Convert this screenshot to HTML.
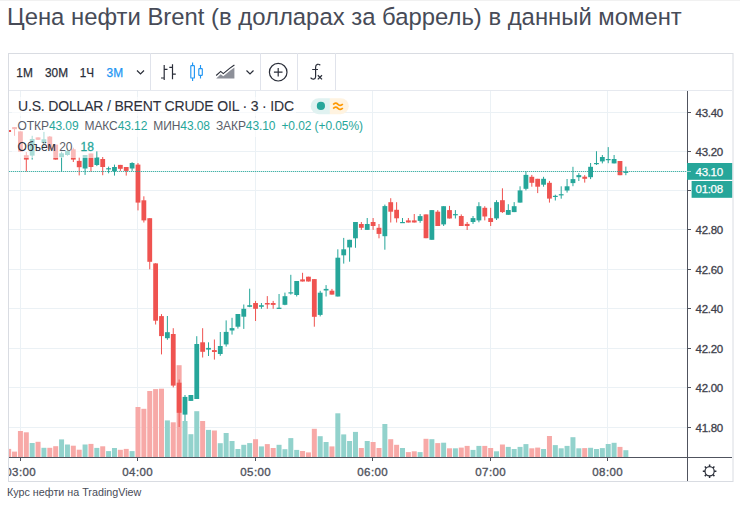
<!DOCTYPE html>
<html><head><meta charset="utf-8"><style>
html,body{margin:0;padding:0;background:#fff;width:740px;height:505px;overflow:hidden}
svg{position:absolute;left:0;top:0;font-family:"Liberation Sans",sans-serif}
</style></head><body>
<svg width="740" height="505" viewBox="0 0 740 505">
<defs><clipPath id="pane"><rect x="9" y="91" width="678" height="366"/></clipPath></defs>
<line x1="0" x2="740" y1="0.5" y2="0.5" stroke="#f1f1f1"/>
<text x="7" y="25.2" font-size="23.86" fill="#474b57">Цена нефти Brent (в долларах за баррель) в данный момент</text>
<rect x="8.5" y="53.5" width="724.5" height="428" fill="none" stroke="#d9dce2"/>
<line x1="9" x2="732" y1="90.5" y2="90.5" stroke="#e6e9ef"/>
<g font-size="12.5" fill="#2a2e39" stroke="#2a2e39" stroke-width="0.25">
<text x="16.3" y="76.8" textLength="16.5" lengthAdjust="spacingAndGlyphs">1M</text><text x="45" y="76.8" textLength="23" lengthAdjust="spacingAndGlyphs">30M</text><text x="79.8" y="76.8" textLength="14.3" lengthAdjust="spacingAndGlyphs">1Ч</text><text x="106.6" y="76.8" fill="#2196f3" stroke="#2196f3" textLength="16.5" lengthAdjust="spacingAndGlyphs">3M</text>
</g>
<path d="M137 70.5 l3.5 3.5 l3.5 -3.5" fill="none" stroke="#2a2e39" stroke-width="1.2"/>
<line x1="150.5" x2="150.5" y1="53" y2="90" stroke="#e0e3eb"/>
<g fill="none" stroke="#2a2e39" stroke-width="1.2">
<path d="M164.2 65v15M161 78h3.2M164.2 69.3h3.3M172.5 64.2v15M169.3 67.3h3.2M172.5 74.2h3.3"/>
</g>
<g fill="none" stroke="#2196f3" stroke-width="1.15">
<rect x="190.8" y="65.6" width="3.6" height="12.4" rx="0.6"/><path d="M192.6 62.4v3.2M192.6 78v3"/>
<rect x="198.8" y="68.6" width="3.5" height="6.8" rx="0.6"/><path d="M200.5 65v3.6M200.5 75.4v3"/>
</g>
<path d="M216.2 75.5L220.7 71.4L223.3 73.6L229.6 68.4L234.4 65" fill="none" stroke="#2a2e39" stroke-width="1.15"/>
<path d="M216.2 78.4L220.7 74.2L223.3 76.2L229.6 71L234.4 67.6V78.4z" fill="#8d9099"/>
<path d="M246.5 70.5 l3.5 3.5 l3.5 -3.5" fill="none" stroke="#2a2e39" stroke-width="1.2"/>
<line x1="260.5" x2="260.5" y1="53" y2="90" stroke="#e0e3eb"/>
<circle cx="278.2" cy="72.2" r="8.8" fill="none" stroke="#2a2e39" stroke-width="1.2"/>
<path d="M278.2 67.9v8.6M273.9 72.2h8.6" stroke="#2a2e39" stroke-width="1.2"/>
<line x1="297.5" x2="297.5" y1="53" y2="90" stroke="#e0e3eb"/>
<path d="M320.3 65.2C318.6 63.6 315.6 64 315.6 67.2V76.8C315.6 79.6 312 79.8 310.6 77.6M312.2 69.5H318" fill="none" stroke="#2a2e39" stroke-width="1.2"/>
<path d="M317.8 75.2l4.2 4.2M322 75.2l-4.2 4.2" stroke="#2a2e39" stroke-width="1.25"/>
<line x1="335.5" x2="335.5" y1="53" y2="90" stroke="#e0e3eb"/>
<g clip-path="url(#pane)">
<line x1="9" x2="687" y1="112.5" y2="112.5" stroke="#ebf1f5" stroke-width="1"/>
<line x1="9" x2="687" y1="151.5" y2="151.5" stroke="#ebf1f5" stroke-width="1"/>
<line x1="9" x2="687" y1="190.5" y2="190.5" stroke="#ebf1f5" stroke-width="1"/>
<line x1="9" x2="687" y1="229.5" y2="229.5" stroke="#ebf1f5" stroke-width="1"/>
<line x1="9" x2="687" y1="269.5" y2="269.5" stroke="#ebf1f5" stroke-width="1"/>
<line x1="9" x2="687" y1="308.5" y2="308.5" stroke="#ebf1f5" stroke-width="1"/>
<line x1="9" x2="687" y1="348.5" y2="348.5" stroke="#ebf1f5" stroke-width="1"/>
<line x1="9" x2="687" y1="387.5" y2="387.5" stroke="#ebf1f5" stroke-width="1"/>
<line x1="9" x2="687" y1="427.5" y2="427.5" stroke="#ebf1f5" stroke-width="1"/>
<line x1="20.5" x2="20.5" y1="91" y2="457" stroke="#ebf1f5" stroke-width="1"/>
<line x1="137.5" x2="137.5" y1="91" y2="457" stroke="#ebf1f5" stroke-width="1"/>
<line x1="255.5" x2="255.5" y1="91" y2="457" stroke="#ebf1f5" stroke-width="1"/>
<line x1="372.5" x2="372.5" y1="91" y2="457" stroke="#ebf1f5" stroke-width="1"/>
<line x1="490.5" x2="490.5" y1="91" y2="457" stroke="#ebf1f5" stroke-width="1"/>
<line x1="607.5" x2="607.5" y1="91" y2="457" stroke="#ebf1f5" stroke-width="1"/>
<rect x="6.16" y="448.9" width="5" height="8.1" fill="#f7a9a7"/>
<rect x="12.04" y="451.6" width="5" height="5.4" fill="#f7a9a7"/>
<rect x="17.92" y="431.0" width="5" height="26.0" fill="#f7a9a7"/>
<rect x="23.80" y="432.3" width="5" height="24.7" fill="#f7a9a7"/>
<rect x="29.68" y="443.0" width="5" height="14.0" fill="#92d2cc"/>
<rect x="35.55" y="441.8" width="5" height="15.2" fill="#f7a9a7"/>
<rect x="41.43" y="447.8" width="5" height="9.2" fill="#92d2cc"/>
<rect x="47.31" y="447.8" width="5" height="9.2" fill="#f7a9a7"/>
<rect x="53.19" y="446.2" width="5" height="10.8" fill="#f7a9a7"/>
<rect x="59.07" y="439.4" width="5" height="17.6" fill="#92d2cc"/>
<rect x="64.94" y="444.5" width="5" height="12.5" fill="#92d2cc"/>
<rect x="70.82" y="445.7" width="5" height="11.3" fill="#f7a9a7"/>
<rect x="76.70" y="449.7" width="5" height="7.3" fill="#f7a9a7"/>
<rect x="82.58" y="444.5" width="5" height="12.5" fill="#92d2cc"/>
<rect x="88.46" y="443.9" width="5" height="13.1" fill="#f7a9a7"/>
<rect x="94.33" y="447.9" width="5" height="9.1" fill="#92d2cc"/>
<rect x="100.21" y="446.3" width="5" height="10.7" fill="#f7a9a7"/>
<rect x="106.09" y="451.1" width="5" height="5.9" fill="#92d2cc"/>
<rect x="111.97" y="448.0" width="5" height="9.0" fill="#92d2cc"/>
<rect x="117.85" y="449.8" width="5" height="7.2" fill="#f7a9a7"/>
<rect x="123.72" y="448.9" width="5" height="8.1" fill="#f7a9a7"/>
<rect x="129.60" y="451.1" width="5" height="5.9" fill="#92d2cc"/>
<rect x="135.48" y="407.0" width="5" height="50.0" fill="#f7a9a7"/>
<rect x="141.36" y="408.8" width="5" height="48.2" fill="#f7a9a7"/>
<rect x="147.24" y="391.0" width="5" height="66.0" fill="#f7a9a7"/>
<rect x="153.11" y="389.1" width="5" height="67.9" fill="#f7a9a7"/>
<rect x="158.99" y="388.7" width="5" height="68.3" fill="#f7a9a7"/>
<rect x="164.87" y="420.4" width="5" height="36.6" fill="#92d2cc"/>
<rect x="170.75" y="422.3" width="5" height="34.7" fill="#f7a9a7"/>
<rect x="176.63" y="365.2" width="5" height="91.8" fill="#f7a9a7"/>
<rect x="182.50" y="421.0" width="5" height="36.0" fill="#92d2cc"/>
<rect x="188.38" y="434.2" width="5" height="22.8" fill="#92d2cc"/>
<rect x="194.26" y="411.2" width="5" height="45.8" fill="#92d2cc"/>
<rect x="200.14" y="421.0" width="5" height="36.0" fill="#f7a9a7"/>
<rect x="206.02" y="429.9" width="5" height="27.1" fill="#92d2cc"/>
<rect x="211.89" y="430.5" width="5" height="26.5" fill="#f7a9a7"/>
<rect x="217.77" y="443.2" width="5" height="13.8" fill="#92d2cc"/>
<rect x="223.65" y="433.0" width="5" height="24.0" fill="#92d2cc"/>
<rect x="229.53" y="441.0" width="5" height="16.0" fill="#92d2cc"/>
<rect x="235.41" y="449.0" width="5" height="8.0" fill="#92d2cc"/>
<rect x="241.28" y="444.8" width="5" height="12.2" fill="#92d2cc"/>
<rect x="247.16" y="443.1" width="5" height="13.9" fill="#92d2cc"/>
<rect x="253.04" y="439.2" width="5" height="17.8" fill="#f7a9a7"/>
<rect x="258.92" y="446.4" width="5" height="10.6" fill="#92d2cc"/>
<rect x="264.80" y="444.1" width="5" height="12.9" fill="#f7a9a7"/>
<rect x="270.67" y="448.0" width="5" height="9.0" fill="#f7a9a7"/>
<rect x="276.55" y="444.8" width="5" height="12.2" fill="#92d2cc"/>
<rect x="282.43" y="449.2" width="5" height="7.8" fill="#92d2cc"/>
<rect x="288.31" y="438.1" width="5" height="18.9" fill="#92d2cc"/>
<rect x="294.19" y="449.9" width="5" height="7.1" fill="#92d2cc"/>
<rect x="300.06" y="451.0" width="5" height="6.0" fill="#f7a9a7"/>
<rect x="305.94" y="452.4" width="5" height="4.6" fill="#f7a9a7"/>
<rect x="311.82" y="428.8" width="5" height="28.2" fill="#f7a9a7"/>
<rect x="317.70" y="436.2" width="5" height="20.8" fill="#92d2cc"/>
<rect x="323.58" y="442.0" width="5" height="15.0" fill="#92d2cc"/>
<rect x="329.45" y="446.4" width="5" height="10.6" fill="#f7a9a7"/>
<rect x="335.33" y="413.3" width="5" height="43.7" fill="#92d2cc"/>
<rect x="341.21" y="434.4" width="5" height="22.6" fill="#92d2cc"/>
<rect x="347.09" y="441.0" width="5" height="16.0" fill="#92d2cc"/>
<rect x="352.97" y="431.9" width="5" height="25.1" fill="#92d2cc"/>
<rect x="358.84" y="448.0" width="5" height="9.0" fill="#f7a9a7"/>
<rect x="364.72" y="441.0" width="5" height="16.0" fill="#92d2cc"/>
<rect x="370.60" y="442.0" width="5" height="15.0" fill="#f7a9a7"/>
<rect x="376.48" y="448.0" width="5" height="9.0" fill="#f7a9a7"/>
<rect x="382.36" y="424.0" width="5" height="33.0" fill="#92d2cc"/>
<rect x="388.23" y="439.2" width="5" height="17.8" fill="#f7a9a7"/>
<rect x="394.11" y="444.8" width="5" height="12.2" fill="#f7a9a7"/>
<rect x="399.99" y="448.0" width="5" height="9.0" fill="#92d2cc"/>
<rect x="405.87" y="452.1" width="5" height="4.9" fill="#f7a9a7"/>
<rect x="411.75" y="451.3" width="5" height="5.7" fill="#f7a9a7"/>
<rect x="417.62" y="452.1" width="5" height="4.9" fill="#92d2cc"/>
<rect x="423.50" y="438.8" width="5" height="18.2" fill="#f7a9a7"/>
<rect x="429.38" y="439.2" width="5" height="17.8" fill="#92d2cc"/>
<rect x="435.26" y="443.1" width="5" height="13.9" fill="#f7a9a7"/>
<rect x="441.14" y="442.7" width="5" height="14.3" fill="#92d2cc"/>
<rect x="447.01" y="448.3" width="5" height="8.7" fill="#f7a9a7"/>
<rect x="452.89" y="448.3" width="5" height="8.7" fill="#92d2cc"/>
<rect x="458.77" y="447.6" width="5" height="9.4" fill="#f7a9a7"/>
<rect x="464.65" y="445.9" width="5" height="11.1" fill="#f7a9a7"/>
<rect x="470.53" y="449.9" width="5" height="7.1" fill="#92d2cc"/>
<rect x="476.40" y="445.9" width="5" height="11.1" fill="#92d2cc"/>
<rect x="482.28" y="445.9" width="5" height="11.1" fill="#f7a9a7"/>
<rect x="488.16" y="448.0" width="5" height="9.0" fill="#f7a9a7"/>
<rect x="494.04" y="451.3" width="5" height="5.7" fill="#92d2cc"/>
<rect x="499.92" y="444.5" width="5" height="12.5" fill="#f7a9a7"/>
<rect x="505.79" y="446.9" width="5" height="10.1" fill="#92d2cc"/>
<rect x="511.67" y="449.0" width="5" height="8.0" fill="#92d2cc"/>
<rect x="517.55" y="446.9" width="5" height="10.1" fill="#92d2cc"/>
<rect x="523.43" y="444.1" width="5" height="12.9" fill="#92d2cc"/>
<rect x="529.31" y="448.3" width="5" height="8.7" fill="#f7a9a7"/>
<rect x="535.18" y="447.6" width="5" height="9.4" fill="#f7a9a7"/>
<rect x="541.06" y="449.0" width="5" height="8.0" fill="#92d2cc"/>
<rect x="546.94" y="436.0" width="5" height="21.0" fill="#f7a9a7"/>
<rect x="552.82" y="445.1" width="5" height="11.9" fill="#92d2cc"/>
<rect x="558.70" y="448.3" width="5" height="8.7" fill="#92d2cc"/>
<rect x="564.57" y="445.9" width="5" height="11.1" fill="#92d2cc"/>
<rect x="570.45" y="437.2" width="5" height="19.8" fill="#92d2cc"/>
<rect x="576.33" y="448.3" width="5" height="8.7" fill="#92d2cc"/>
<rect x="582.21" y="448.1" width="5" height="8.9" fill="#f7a9a7"/>
<rect x="588.09" y="447.8" width="5" height="9.2" fill="#92d2cc"/>
<rect x="593.96" y="449.0" width="5" height="8.0" fill="#92d2cc"/>
<rect x="599.84" y="448.1" width="5" height="8.9" fill="#92d2cc"/>
<rect x="605.72" y="444.0" width="5" height="13.0" fill="#92d2cc"/>
<rect x="611.60" y="442.8" width="5" height="14.2" fill="#92d2cc"/>
<rect x="617.48" y="446.9" width="5" height="10.1" fill="#f7a9a7"/>
<rect x="623.35" y="450.2" width="5" height="6.8" fill="#92d2cc"/>
<rect x="8.16" y="130.0" width="1" height="2.0" fill="#ef5350"/>
<rect x="6.26" y="130.0" width="4.8" height="2.0" fill="#ef5350"/>
<rect x="14.04" y="127.0" width="1" height="8.8" fill="#ef5350"/>
<rect x="12.14" y="127.1" width="4.8" height="2.1" fill="#ef5350"/>
<rect x="19.92" y="131.4" width="1" height="20.3" fill="#ef5350"/>
<rect x="18.02" y="131.4" width="4.8" height="20.3" fill="#ef5350"/>
<rect x="25.80" y="152.0" width="1" height="19.5" fill="#ef5350"/>
<rect x="23.90" y="155.2" width="4.8" height="4.4" fill="#ef5350"/>
<rect x="31.68" y="135.8" width="1" height="23.8" fill="#26a69a"/>
<rect x="29.78" y="139.0" width="4.8" height="16.6" fill="#26a69a"/>
<rect x="37.55" y="137.4" width="1" height="2.6" fill="#ef5350"/>
<rect x="35.65" y="137.4" width="4.8" height="2.4" fill="#ef5350"/>
<rect x="43.43" y="131.9" width="1" height="16.6" fill="#26a69a"/>
<rect x="41.53" y="139.3" width="4.8" height="3.7" fill="#26a69a"/>
<rect x="49.31" y="136.0" width="1" height="13.3" fill="#ef5350"/>
<rect x="47.41" y="136.6" width="4.8" height="12.7" fill="#ef5350"/>
<rect x="55.19" y="144.6" width="1" height="15.0" fill="#ef5350"/>
<rect x="53.29" y="144.6" width="4.8" height="15.0" fill="#ef5350"/>
<rect x="61.07" y="151.7" width="1" height="19.8" fill="#26a69a"/>
<rect x="59.17" y="153.3" width="4.8" height="3.9" fill="#26a69a"/>
<rect x="66.94" y="148.0" width="1" height="7.7" fill="#26a69a"/>
<rect x="65.04" y="151.0" width="4.8" height="4.0" fill="#26a69a"/>
<rect x="72.82" y="147.7" width="1" height="14.3" fill="#ef5350"/>
<rect x="70.92" y="149.3" width="4.8" height="10.3" fill="#ef5350"/>
<rect x="78.70" y="157.2" width="1" height="18.2" fill="#ef5350"/>
<rect x="76.80" y="160.9" width="4.8" height="6.3" fill="#ef5350"/>
<rect x="84.58" y="155.0" width="1" height="19.9" fill="#26a69a"/>
<rect x="82.68" y="155.0" width="4.8" height="13.5" fill="#26a69a"/>
<rect x="90.46" y="153.5" width="1" height="18.2" fill="#ef5350"/>
<rect x="88.56" y="153.5" width="4.8" height="13.5" fill="#ef5350"/>
<rect x="96.33" y="151.4" width="1" height="14.7" fill="#26a69a"/>
<rect x="94.43" y="157.4" width="4.8" height="7.6" fill="#26a69a"/>
<rect x="102.21" y="157.0" width="1" height="18.2" fill="#ef5350"/>
<rect x="100.31" y="159.0" width="4.8" height="8.0" fill="#ef5350"/>
<rect x="108.09" y="166.6" width="1" height="6.7" fill="#26a69a"/>
<rect x="106.19" y="168.2" width="4.8" height="1.2" fill="#26a69a"/>
<rect x="113.97" y="164.6" width="1" height="11.0" fill="#26a69a"/>
<rect x="112.07" y="167.0" width="4.8" height="4.2" fill="#26a69a"/>
<rect x="119.85" y="164.9" width="1" height="6.0" fill="#ef5350"/>
<rect x="117.95" y="164.9" width="4.8" height="3.9" fill="#ef5350"/>
<rect x="125.72" y="167.0" width="1" height="8.6" fill="#ef5350"/>
<rect x="123.82" y="167.0" width="4.8" height="3.9" fill="#ef5350"/>
<rect x="131.60" y="162.2" width="1" height="8.7" fill="#26a69a"/>
<rect x="129.70" y="163.0" width="4.8" height="5.5" fill="#26a69a"/>
<rect x="137.48" y="163.0" width="1" height="47.4" fill="#ef5350"/>
<rect x="135.58" y="164.6" width="4.8" height="38.0" fill="#ef5350"/>
<rect x="143.36" y="196.3" width="1" height="26.2" fill="#ef5350"/>
<rect x="141.46" y="200.3" width="4.8" height="20.1" fill="#ef5350"/>
<rect x="149.24" y="218.2" width="1" height="51.1" fill="#ef5350"/>
<rect x="147.34" y="218.2" width="4.8" height="43.6" fill="#ef5350"/>
<rect x="155.11" y="263.2" width="1" height="61.3" fill="#ef5350"/>
<rect x="153.21" y="263.4" width="4.8" height="57.3" fill="#ef5350"/>
<rect x="160.99" y="314.1" width="1" height="40.3" fill="#ef5350"/>
<rect x="159.09" y="316.1" width="4.8" height="20.0" fill="#ef5350"/>
<rect x="166.87" y="316.0" width="1" height="23.8" fill="#26a69a"/>
<rect x="164.97" y="332.2" width="4.8" height="6.0" fill="#26a69a"/>
<rect x="172.75" y="328.2" width="1" height="59.2" fill="#ef5350"/>
<rect x="170.85" y="334.0" width="4.8" height="51.6" fill="#ef5350"/>
<rect x="178.63" y="379.5" width="1" height="47.5" fill="#ef5350"/>
<rect x="176.73" y="382.7" width="4.8" height="30.1" fill="#ef5350"/>
<rect x="184.50" y="395.0" width="1" height="26.0" fill="#26a69a"/>
<rect x="182.60" y="396.9" width="4.8" height="17.7" fill="#26a69a"/>
<rect x="190.38" y="395.0" width="1" height="5.9" fill="#26a69a"/>
<rect x="188.48" y="395.0" width="4.8" height="5.9" fill="#26a69a"/>
<rect x="196.26" y="336.2" width="1" height="62.8" fill="#26a69a"/>
<rect x="194.36" y="344.0" width="4.8" height="55.0" fill="#26a69a"/>
<rect x="202.14" y="328.2" width="1" height="29.3" fill="#ef5350"/>
<rect x="200.24" y="342.3" width="4.8" height="9.5" fill="#ef5350"/>
<rect x="208.02" y="342.3" width="1" height="13.7" fill="#26a69a"/>
<rect x="206.12" y="347.9" width="4.8" height="1.7" fill="#26a69a"/>
<rect x="213.89" y="339.5" width="1" height="20.1" fill="#ef5350"/>
<rect x="211.99" y="350.1" width="4.8" height="1.9" fill="#ef5350"/>
<rect x="219.77" y="332.0" width="1" height="23.8" fill="#26a69a"/>
<rect x="217.87" y="346.0" width="4.8" height="8.0" fill="#26a69a"/>
<rect x="225.65" y="320.4" width="1" height="26.2" fill="#26a69a"/>
<rect x="223.75" y="331.9" width="4.8" height="12.5" fill="#26a69a"/>
<rect x="231.53" y="317.8" width="1" height="16.8" fill="#26a69a"/>
<rect x="229.63" y="328.1" width="4.8" height="2.4" fill="#26a69a"/>
<rect x="237.41" y="314.0" width="1" height="14.6" fill="#26a69a"/>
<rect x="235.51" y="314.0" width="4.8" height="12.7" fill="#26a69a"/>
<rect x="243.28" y="304.5" width="1" height="24.4" fill="#26a69a"/>
<rect x="241.38" y="308.8" width="4.8" height="7.9" fill="#26a69a"/>
<rect x="249.16" y="288.7" width="1" height="18.5" fill="#26a69a"/>
<rect x="247.26" y="305.2" width="4.8" height="1.6" fill="#26a69a"/>
<rect x="255.04" y="300.9" width="1" height="20.1" fill="#ef5350"/>
<rect x="253.14" y="303.0" width="4.8" height="5.8" fill="#ef5350"/>
<rect x="260.92" y="303.0" width="1" height="5.8" fill="#26a69a"/>
<rect x="259.02" y="305.2" width="4.8" height="1.6" fill="#26a69a"/>
<rect x="266.80" y="296.1" width="1" height="12.7" fill="#ef5350"/>
<rect x="264.90" y="303.0" width="4.8" height="1.5" fill="#ef5350"/>
<rect x="272.67" y="300.9" width="1" height="7.9" fill="#ef5350"/>
<rect x="270.77" y="303.0" width="4.8" height="1.9" fill="#ef5350"/>
<rect x="278.55" y="294.0" width="1" height="14.8" fill="#26a69a"/>
<rect x="276.65" y="307.7" width="4.8" height="1.2" fill="#26a69a"/>
<rect x="284.43" y="292.6" width="1" height="12.6" fill="#26a69a"/>
<rect x="282.53" y="296.2" width="4.8" height="8.6" fill="#26a69a"/>
<rect x="290.31" y="274.8" width="1" height="19.8" fill="#26a69a"/>
<rect x="288.41" y="292.3" width="4.8" height="1.2" fill="#26a69a"/>
<rect x="296.19" y="281.0" width="1" height="15.5" fill="#26a69a"/>
<rect x="294.29" y="281.0" width="4.8" height="14.0" fill="#26a69a"/>
<rect x="302.06" y="272.8" width="1" height="8.7" fill="#ef5350"/>
<rect x="300.16" y="279.4" width="4.8" height="2.1" fill="#ef5350"/>
<rect x="307.94" y="276.7" width="1" height="4.8" fill="#ef5350"/>
<rect x="306.04" y="276.7" width="4.8" height="4.8" fill="#ef5350"/>
<rect x="313.82" y="279.1" width="1" height="47.6" fill="#ef5350"/>
<rect x="311.92" y="279.1" width="4.8" height="37.7" fill="#ef5350"/>
<rect x="319.70" y="290.8" width="1" height="25.6" fill="#26a69a"/>
<rect x="317.80" y="292.7" width="4.8" height="22.2" fill="#26a69a"/>
<rect x="325.58" y="285.1" width="1" height="11.4" fill="#26a69a"/>
<rect x="323.68" y="288.9" width="4.8" height="1.6" fill="#26a69a"/>
<rect x="331.45" y="288.9" width="1" height="5.7" fill="#ef5350"/>
<rect x="329.55" y="290.7" width="4.8" height="3.9" fill="#ef5350"/>
<rect x="337.33" y="249.3" width="1" height="47.2" fill="#26a69a"/>
<rect x="335.43" y="257.7" width="4.8" height="38.8" fill="#26a69a"/>
<rect x="343.21" y="237.9" width="1" height="25.7" fill="#26a69a"/>
<rect x="341.31" y="249.3" width="4.8" height="6.0" fill="#26a69a"/>
<rect x="349.09" y="239.8" width="1" height="21.9" fill="#26a69a"/>
<rect x="347.19" y="239.8" width="4.8" height="7.6" fill="#26a69a"/>
<rect x="354.97" y="222.0" width="1" height="25.8" fill="#26a69a"/>
<rect x="353.07" y="222.0" width="4.8" height="16.3" fill="#26a69a"/>
<rect x="360.84" y="222.0" width="1" height="7.9" fill="#ef5350"/>
<rect x="358.94" y="224.0" width="4.8" height="3.8" fill="#ef5350"/>
<rect x="366.72" y="218.0" width="1" height="11.9" fill="#26a69a"/>
<rect x="364.82" y="224.0" width="4.8" height="5.9" fill="#26a69a"/>
<rect x="372.60" y="218.0" width="1" height="11.9" fill="#ef5350"/>
<rect x="370.70" y="222.0" width="4.8" height="4.0" fill="#ef5350"/>
<rect x="378.48" y="224.0" width="1" height="14.3" fill="#ef5350"/>
<rect x="376.58" y="227.8" width="4.8" height="6.1" fill="#ef5350"/>
<rect x="384.36" y="204.6" width="1" height="45.1" fill="#26a69a"/>
<rect x="382.46" y="206.1" width="4.8" height="30.1" fill="#26a69a"/>
<rect x="390.23" y="198.2" width="1" height="24.3" fill="#ef5350"/>
<rect x="388.33" y="202.2" width="4.8" height="9.5" fill="#ef5350"/>
<rect x="396.11" y="202.2" width="1" height="20.3" fill="#ef5350"/>
<rect x="394.21" y="209.8" width="4.8" height="8.5" fill="#ef5350"/>
<rect x="401.99" y="218.0" width="1" height="4.8" fill="#26a69a"/>
<rect x="400.09" y="222.0" width="4.8" height="1.2" fill="#26a69a"/>
<rect x="407.87" y="218.0" width="1" height="4.5" fill="#ef5350"/>
<rect x="405.97" y="220.4" width="4.8" height="2.1" fill="#ef5350"/>
<rect x="413.75" y="214.0" width="1" height="8.5" fill="#ef5350"/>
<rect x="411.85" y="220.4" width="4.8" height="2.1" fill="#ef5350"/>
<rect x="419.62" y="214.0" width="1" height="8.8" fill="#26a69a"/>
<rect x="417.72" y="216.1" width="4.8" height="4.8" fill="#26a69a"/>
<rect x="425.50" y="214.4" width="1" height="23.8" fill="#ef5350"/>
<rect x="423.60" y="214.4" width="4.8" height="23.8" fill="#ef5350"/>
<rect x="431.38" y="210.1" width="1" height="29.7" fill="#26a69a"/>
<rect x="429.48" y="210.1" width="4.8" height="29.7" fill="#26a69a"/>
<rect x="437.26" y="210.1" width="1" height="15.9" fill="#ef5350"/>
<rect x="435.36" y="211.7" width="4.8" height="14.3" fill="#ef5350"/>
<rect x="443.14" y="206.2" width="1" height="19.8" fill="#26a69a"/>
<rect x="441.24" y="206.2" width="4.8" height="18.2" fill="#26a69a"/>
<rect x="449.01" y="205.9" width="1" height="12.6" fill="#ef5350"/>
<rect x="447.11" y="210.1" width="4.8" height="8.4" fill="#ef5350"/>
<rect x="454.89" y="210.1" width="1" height="8.4" fill="#26a69a"/>
<rect x="452.99" y="214.1" width="4.8" height="1.2" fill="#26a69a"/>
<rect x="460.77" y="214.4" width="1" height="11.6" fill="#ef5350"/>
<rect x="458.87" y="216.0" width="4.8" height="10.0" fill="#ef5350"/>
<rect x="466.65" y="222.0" width="1" height="8.0" fill="#ef5350"/>
<rect x="464.75" y="223.9" width="4.8" height="2.1" fill="#ef5350"/>
<rect x="472.53" y="216.0" width="1" height="7.9" fill="#26a69a"/>
<rect x="470.63" y="218.1" width="4.8" height="3.9" fill="#26a69a"/>
<rect x="478.40" y="202.2" width="1" height="20.1" fill="#26a69a"/>
<rect x="476.50" y="206.2" width="4.8" height="14.2" fill="#26a69a"/>
<rect x="484.28" y="206.2" width="1" height="14.2" fill="#ef5350"/>
<rect x="482.38" y="207.8" width="4.8" height="8.7" fill="#ef5350"/>
<rect x="490.16" y="207.8" width="1" height="18.2" fill="#ef5350"/>
<rect x="488.26" y="218.1" width="4.8" height="3.9" fill="#ef5350"/>
<rect x="496.04" y="200.2" width="1" height="19.8" fill="#26a69a"/>
<rect x="494.14" y="202.1" width="4.8" height="16.3" fill="#26a69a"/>
<rect x="501.92" y="188.3" width="1" height="24.6" fill="#ef5350"/>
<rect x="500.02" y="200.2" width="4.8" height="11.9" fill="#ef5350"/>
<rect x="507.79" y="204.2" width="1" height="10.6" fill="#26a69a"/>
<rect x="505.89" y="210.0" width="4.8" height="4.8" fill="#26a69a"/>
<rect x="513.67" y="202.1" width="1" height="10.0" fill="#26a69a"/>
<rect x="511.77" y="206.2" width="4.8" height="5.9" fill="#26a69a"/>
<rect x="519.55" y="186.3" width="1" height="16.3" fill="#26a69a"/>
<rect x="517.65" y="190.4" width="4.8" height="12.2" fill="#26a69a"/>
<rect x="525.43" y="171.4" width="1" height="19.0" fill="#26a69a"/>
<rect x="523.53" y="174.9" width="4.8" height="13.9" fill="#26a69a"/>
<rect x="531.31" y="174.9" width="1" height="11.8" fill="#ef5350"/>
<rect x="529.41" y="176.8" width="4.8" height="6.0" fill="#ef5350"/>
<rect x="537.18" y="178.8" width="1" height="14.3" fill="#ef5350"/>
<rect x="535.28" y="178.8" width="4.8" height="7.9" fill="#ef5350"/>
<rect x="543.06" y="176.8" width="1" height="9.9" fill="#26a69a"/>
<rect x="541.16" y="178.8" width="4.8" height="5.9" fill="#26a69a"/>
<rect x="548.94" y="180.9" width="1" height="21.7" fill="#ef5350"/>
<rect x="547.04" y="182.8" width="4.8" height="15.8" fill="#ef5350"/>
<rect x="554.82" y="194.7" width="1" height="5.8" fill="#26a69a"/>
<rect x="552.92" y="195.8" width="4.8" height="1.2" fill="#26a69a"/>
<rect x="560.70" y="186.3" width="1" height="12.4" fill="#26a69a"/>
<rect x="558.80" y="194.2" width="4.8" height="1.2" fill="#26a69a"/>
<rect x="566.57" y="179.0" width="1" height="13.6" fill="#26a69a"/>
<rect x="564.67" y="186.3" width="4.8" height="4.2" fill="#26a69a"/>
<rect x="572.45" y="166.8" width="1" height="19.4" fill="#26a69a"/>
<rect x="570.55" y="179.1" width="4.8" height="4.0" fill="#26a69a"/>
<rect x="578.33" y="173.1" width="1" height="7.9" fill="#26a69a"/>
<rect x="576.43" y="175.1" width="4.8" height="2.1" fill="#26a69a"/>
<rect x="584.21" y="175.1" width="1" height="7.5" fill="#ef5350"/>
<rect x="582.31" y="176.7" width="4.8" height="2.1" fill="#ef5350"/>
<rect x="590.09" y="163.0" width="1" height="16.1" fill="#26a69a"/>
<rect x="588.19" y="166.8" width="4.8" height="10.4" fill="#26a69a"/>
<rect x="595.96" y="151.2" width="1" height="13.8" fill="#26a69a"/>
<rect x="594.06" y="163.0" width="4.8" height="1.2" fill="#26a69a"/>
<rect x="601.84" y="155.0" width="1" height="8.4" fill="#26a69a"/>
<rect x="599.94" y="157.0" width="4.8" height="4.4" fill="#26a69a"/>
<rect x="607.72" y="147.1" width="1" height="16.1" fill="#26a69a"/>
<rect x="605.82" y="159.0" width="4.8" height="1.2" fill="#26a69a"/>
<rect x="613.60" y="155.0" width="1" height="8.4" fill="#26a69a"/>
<rect x="611.70" y="159.0" width="4.8" height="4.4" fill="#26a69a"/>
<rect x="619.48" y="161.0" width="1" height="14.2" fill="#ef5350"/>
<rect x="617.58" y="161.0" width="4.8" height="14.2" fill="#ef5350"/>
<rect x="625.35" y="166.6" width="1" height="8.6" fill="#26a69a"/>
<rect x="623.45" y="171.4" width="4.8" height="1.5" fill="#26a69a"/>
<line x1="9" x2="687" y1="171.5" y2="171.5" stroke="#26a69a" stroke-width="1" stroke-dasharray="1.3 0.7" stroke-opacity="0.85"/>
</g>
<rect x="12" y="97" width="284" height="19" fill="#fff" fill-opacity="0.6"/>
<rect x="12" y="118" width="354" height="19" fill="#fff" fill-opacity="0.6"/>
<rect x="12" y="137" width="84" height="21" fill="#fff" fill-opacity="0.6"/>
<text x="18" y="111.4" font-size="14" fill="#2e313b" stroke="#2e313b" stroke-width="0.1" textLength="276" lengthAdjust="spacing">U.S. DOLLAR / BRENT CRUDE OIL · 3 · IDC</text>
<g font-size="12">
<text x="17.6" y="130.3" textLength="345.4" lengthAdjust="spacing" fill="#5a5d68"><tspan>ОТКР</tspan><tspan fill="#26a69a">43.09</tspan><tspan dx="6">МАКС</tspan><tspan fill="#26a69a">43.12</tspan><tspan dx="6">МИН</tspan><tspan fill="#26a69a">43.08</tspan><tspan dx="6">ЗАКР</tspan><tspan fill="#26a69a">43.10</tspan><tspan dx="6" fill="#26a69a">+0.02 (+0.05%)</tspan></text>
<text x="17.6" y="151.3" fill="#2a2e39"><tspan>Объём </tspan><tspan fill="#5a5d68">20</tspan><tspan dx="8" fill="#26a69a" stroke="#26a69a" stroke-width="0.3">18</tspan></text>
</g>
<path d="M318.7 98.2h11.2v16h-11.2a8 8 0 0 1 0-16z" fill="#e0f2f1"/>
<path d="M329.9 98.2h10.9a8 8 0 0 1 0 16h-10.9z" fill="#fff3e0"/>
<circle cx="320.9" cy="105.9" r="4.1" fill="#26a69a"/>
<path d="M333.2 104.6c1.6-1.9 3.2-1.9 4.8-0.3s3.2 1.6 4.8-0.3M333.2 108.6c1.6-1.9 3.2-1.9 4.8-0.3s3.2 1.6 4.8-0.3" fill="none" stroke="#ff9800" stroke-width="1.7"/>
<!-- axes -->
<line x1="687.5" x2="687.5" y1="91" y2="481" stroke="#50535e"/>
<line x1="9" x2="732" y1="457.5" y2="457.5" stroke="#50535e"/>
<g stroke="#50535e">
<line x1="688" x2="691" y1="112.5" y2="112.5"/>
<line x1="688" x2="691" y1="151.5" y2="151.5"/>
<line x1="688" x2="691" y1="190.5" y2="190.5"/>
<line x1="688" x2="691" y1="229.5" y2="229.5"/>
<line x1="688" x2="691" y1="269.5" y2="269.5"/>
<line x1="688" x2="691" y1="308.5" y2="308.5"/>
<line x1="688" x2="691" y1="348.5" y2="348.5"/>
<line x1="688" x2="691" y1="387.5" y2="387.5"/>
<line x1="688" x2="691" y1="427.5" y2="427.5"/>
<line x1="20.5" x2="20.5" y1="458" y2="461"/>
<line x1="137.5" x2="137.5" y1="458" y2="461"/>
<line x1="255.5" x2="255.5" y1="458" y2="461"/>
<line x1="372.5" x2="372.5" y1="458" y2="461"/>
<line x1="490.5" x2="490.5" y1="458" y2="461"/>
<line x1="607.5" x2="607.5" y1="458" y2="461"/></g>
<g font-size="11.5" fill="#3e414b" stroke="#3e414b" stroke-width="0.3">
<text x="695.6" y="116.6" textLength="27.6" lengthAdjust="spacing">43.40</text>
<text x="695.6" y="155.6" textLength="27.6" lengthAdjust="spacing">43.20</text>
<text x="695.6" y="233.6" textLength="27.6" lengthAdjust="spacing">42.80</text>
<text x="695.6" y="273.6" textLength="27.6" lengthAdjust="spacing">42.60</text>
<text x="695.6" y="312.6" textLength="27.6" lengthAdjust="spacing">42.40</text>
<text x="695.6" y="352.6" textLength="27.6" lengthAdjust="spacing">42.20</text>
<text x="695.6" y="391.6" textLength="27.6" lengthAdjust="spacing">42.00</text>
<text x="695.6" y="431.6" textLength="27.6" lengthAdjust="spacing">41.80</text>
</g>
<rect x="687" y="163" width="45.2" height="16.8" fill="#26a69a"/>
<line x1="687" x2="691" y1="171.5" y2="171.5" stroke="#9ed6d0"/>
<text x="695.6" y="175.6" font-size="11.5" fill="#fff" stroke="#fff" stroke-width="0.25" textLength="27.5" lengthAdjust="spacing">43.10</text>
<rect x="691.6" y="181" width="40.6" height="16.8" fill="#26a69a"/>
<text x="695.6" y="192.7" font-size="11.5" fill="#fff" stroke="#fff" stroke-width="0.25" textLength="27.5" lengthAdjust="spacing">01:08</text>
<g clip-path="url(#tax)"><g font-size="11.5" fill="#50535e" stroke="#50535e" stroke-width="0.35" text-anchor="middle">
<text x="20.5" y="476.3" textLength="30.5" lengthAdjust="spacing">03:00</text>
<text x="137.5" y="476.3" textLength="30.5" lengthAdjust="spacing">04:00</text>
<text x="255.5" y="476.3" textLength="30.5" lengthAdjust="spacing">05:00</text>
<text x="372.5" y="476.3" textLength="30.5" lengthAdjust="spacing">06:00</text>
<text x="490.5" y="476.3" textLength="30.5" lengthAdjust="spacing">07:00</text>
<text x="607.5" y="476.3" textLength="30.5" lengthAdjust="spacing">08:00</text>
</g></g>
<defs><clipPath id="tax"><rect x="9" y="458" width="678" height="23"/></clipPath></defs>
<g fill="none" stroke="#2a2e39"><circle cx="709.6" cy="471.3" r="4.6" stroke-width="1.2"/><path d="M714.20 471.30L716.40 471.30M712.85 474.55L714.41 476.11M709.60 475.90L709.60 478.10M706.35 474.55L704.79 476.11M705.00 471.30L702.80 471.30M706.35 468.05L704.79 466.49M709.60 466.70L709.60 464.50M712.85 468.05L714.41 466.49" stroke-width="1.5"/></g>
<text x="7" y="495.8" font-size="10.75" fill="#474b57">Курс нефти на TradingView</text>
</svg>
</body></html>
